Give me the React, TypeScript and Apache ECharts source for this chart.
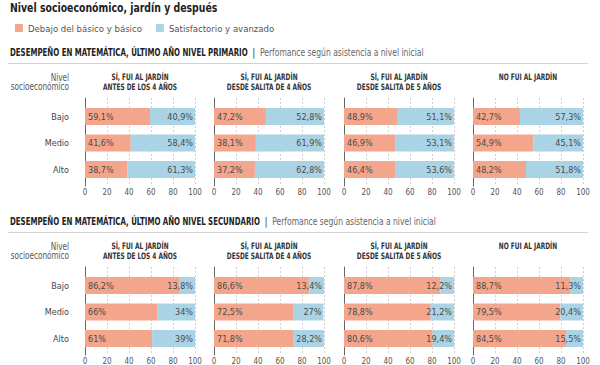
import React, { useEffect, useRef } from "react";
import * as echarts from "echarts";

const rows = ["Bajo", "Medio", "Alto"];
const panelTitles = [
  ["SÍ, FUI AL JARDÍN", "ANTES DE LOS 4 AÑOS"],
  ["SÍ, FUI AL JARDÍN", "DESDE SALITA DE 4 AÑOS"],
  ["SÍ, FUI AL JARDÍN", "DESDE SALITA DE 5 AÑOS"],
  ["NO FUI AL JARDÍN"],
];
const seriesNames = ["Debajo del básico y básico", "Satisfactorio y avanzado"];

const primLow = [
  [59.1, 41.6, 38.7],
  [47.2, 38.1, 37.2],
  [48.9, 46.9, 46.4],
  [42.7, 54.9, 48.2],
];
const primHigh = [
  [40.9, 58.4, 61.3],
  [52.8, 61.9, 62.8],
  [51.1, 53.1, 53.6],
  [57.3, 45.1, 51.8],
];
const secLow = [
  [86.2, 66, 61],
  [86.6, 72.5, 71.8],
  [87.8, 78.8, 80.6],
  [88.7, 79.5, 84.5],
];
const secHigh = [
  [13.8, 34, 39],
  [13.4, 27, 28.2],
  [12.2, 21.2, 19.4],
  [11.3, 20.4, 15.5],
];
const sections = [
  { title: "DESEMPEÑO EN MATEMÁTICA, ÚLTIMO AÑO NIVEL PRIMARIO", low: primLow, high: primHigh },
  { title: "DESEMPEÑO EN MATEMÁTICA, ÚLTIMO AÑO NIVEL SECUNDARIO", low: secLow, high: secHigh },
];
const subtitle = "Perfomance según asistencia a nivel inicial";

const FONT = "'DejaVu Sans Condensed', 'Liberation Sans', sans-serif";
const SALMON = "#F3A68C";
const BLUE = "#AAD4E6";

const panelLeft = [85, 214, 344, 473];
const panelWidth = 110;
const SECTION_OFFSET = 169;

const fmt = (v: number) => String(v).replace(".", ",") + "%";

export default function App() {
  const ref = useRef<HTMLDivElement>(null);
  useEffect(() => {
    if (!ref.current) return;
    const chart = echarts.init(ref.current, null, { renderer: "svg" });
    const grid: any[] = [];
    const xAxis: any[] = [];
    const yAxis: any[] = [];
    const series: any[] = [];
    const graphic: any[] = [];

    graphic.push({
      type: "text",
      x: 10,
      y: 8,
      scaleX: 0.8,
      style: {
        text: "Nivel socioeconómico, jardín y después",
        verticalAlign: "middle",
        font: `bold 13px ${FONT}`,
        fill: "#222",
      },
    });

    sections.forEach((sec, si) => {
      const off = si * SECTION_OFFSET;
      graphic.push({
        type: "text",
        x: 10,
        y: 52 + off,
        scaleX: 0.75,
        style: {
          text: `{b|${sec.title}}{p|  |  }{s|${subtitle}}`,
          verticalAlign: "middle",
          rich: {
            b: { font: `bold 10.4px ${FONT}`, fill: "#222" },
            p: { font: `bold 10.5px ${FONT}`, fill: "#444" },
            s: { font: `11.3px ${FONT}`, fill: "#666" },
          },
        },
      });
      graphic.push({
        type: "line",
        shape: { x1: 8, y1: 63.5 + off, x2: 588, y2: 63.5 + off },
        style: { stroke: "#d4d4d4", lineWidth: 1 },
      });
      graphic.push({
        type: "text",
        x: 69,
        y: 81.5 + off,
        scaleX: 0.77,
        style: {
          text: "Nivel\nsocioeconómico",
          align: "right",
          verticalAlign: "middle",
          lineHeight: 9.5,
          font: `10.5px ${FONT}`,
          fill: "#555",
        },
      });
      panelTitles.forEach((t, pi) => {
        graphic.push({
          type: "text",
          x: panelLeft[pi] + panelWidth / 2,
          y: 72 + off,
          scaleX: 0.74,
          style: {
            text: t.join("\n"),
            align: "center",
            verticalAlign: "top",
            lineHeight: 9.8,
            font: `bold 8.8px ${FONT}`,
            fill: "#333",
          },
        });
      });

      for (let pi = 0; pi < 4; pi++) {
        // axis frame grid
        const gA = grid.length;
        grid.push({ left: panelLeft[pi], width: panelWidth, top: 98 + off, height: 88 });
        xAxis.push({
          gridIndex: gA,
          type: "value",
          min: 0,
          max: 100,
          interval: 20,
          axisLine: { show: false },
          axisTick: { show: false },
          axisLabel: { fontSize: 8, color: "#555", margin: 2, fontFamily: FONT },
          splitLine: { show: true, lineStyle: { color: "#cfcfcf", type: [2, 2], width: 1 } },
        });
        yAxis.push({
          gridIndex: gA,
          type: "value",
          min: 0,
          max: 1,
          axisLine: { show: true, onZero: false, lineStyle: { color: "#666", width: 1 } },
          axisTick: { show: false },
          axisLabel: { show: false },
          splitLine: { show: false },
        });
        // bars grid
        const gB = grid.length;
        grid.push({ left: panelLeft[pi], width: panelWidth, top: 103.25 + off, height: 79.5 });
        xAxis.push({
          gridIndex: gB,
          type: "value",
          min: 0,
          max: 100,
          show: false,
        });
        yAxis.push({
          gridIndex: gB,
          type: "category",
          inverse: true,
          data: rows,
          axisLine: { show: false },
          axisTick: { show: false },
          axisLabel: {
            show: pi === 0,
            margin: 16,
            fontSize: 9,
            color: "#444",
            fontFamily: FONT,
          },
          splitLine: { show: false },
        });
        const stack = `s${si}_${pi}`;
        series.push({
          type: "bar",
          name: seriesNames[0],
          xAxisIndex: gB,
          yAxisIndex: gB,
          stack,
          barWidth: 17,
          data: sec.low[pi],
          itemStyle: { color: SALMON },
          label: {
            show: true,
            position: "insideLeft",
            distance: 3,
            formatter: (p: any) => fmt(p.value),
            fontSize: 9,
            color: "#4a4a4a",
            fontFamily: FONT,
          },
        });
        series.push({
          type: "bar",
          name: seriesNames[1],
          xAxisIndex: gB,
          yAxisIndex: gB,
          stack,
          barWidth: 17,
          data: sec.high[pi],
          itemStyle: { color: BLUE },
          label: {
            show: true,
            position: "insideRight",
            distance: 2,
            formatter: (p: any) => fmt(p.value),
            fontSize: 9,
            color: "#4a4a4a",
            fontFamily: FONT,
          },
        });
      }
    });

    chart.setOption({
      animation: false,
      backgroundColor: "#fff",
      textStyle: { fontFamily: FONT },
      legend: {
        left: 10,
        top: 18,
        itemWidth: 8,
        itemHeight: 8,
        itemGap: 14,
        icon: "rect",
        data: seriesNames,
        textStyle: { fontSize: 9.5, color: "#555", fontFamily: FONT },
        selectedMode: false,
      },
      grid,
      xAxis,
      yAxis,
      series,
      graphic,
    });
    return () => chart.dispose();
  }, []);
  return (
    <div
      ref={ref}
      style={{ position: "fixed", left: 0, top: 0, width: 600, height: 365, background: "#fff" }}
    />
  );
}
